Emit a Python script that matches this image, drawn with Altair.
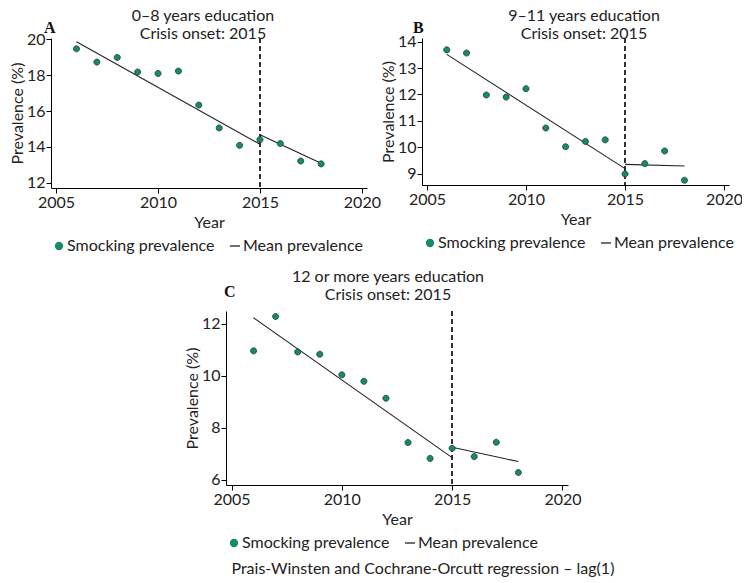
import altair as alt
import pandas as pd

years = [2006, 2007, 2008, 2009, 2010, 2011, 2012, 2013, 2014, 2015, 2016, 2017, 2018]
prev_a = [19.46, 18.72, 18.98, 18.17, 18.09, 18.22, 16.33, 15.06, 14.09, 14.41, 14.19, 13.22, 13.06]
prev_b = [13.69, 13.57, 11.98, 11.90, 12.22, 10.73, 10.02, 10.22, 10.28, 8.99, 9.38, 9.86, 8.75]
prev_c = [10.95, 12.27, 10.91, 10.82, 10.03, 9.78, 9.13, 7.43, 6.82, 7.21, 6.89, 7.44, 6.28]

fit_years = [2006, 2015, 2015, 2018]
fit_seg = ["pre", "pre", "post", "post"]
fit_a = [19.85, 14.15, 14.68, 13.09]
fit_b = [13.52, 9.19, 9.35, 9.29]
fit_c = [12.22, 6.85, 7.25, 6.70]

x_ticks = [2005, 2010, 2015, 2020]
yticks_a = [12, 14, 16, 18, 20]
yticks_b = [9, 10, 11, 12, 13, 14]
yticks_c = [6, 8, 10, 12]

titles_a = ["0–8 years education", "Crisis onset: 2015"]
titles_b = ["9–11 years education", "Crisis onset: 2015"]
titles_c = ["12 or more years education", "Crisis onset: 2015"]
note = "Prais-Winsten and Cochrane-Orcutt regression – lag(1)"

SERIES = ["Smocking prevalence", "Mean prevalence"]
onset = 2015
GREEN = "#178a6c"
DARK = "#222222"
FONT = "Lato"
FS = 16
CIRCLE = "M -0.7 0 A 0.7 0.7 0 1 0 0.7 0 A 0.7 0.7 0 1 0 -0.7 0 Z"
DASH = "M -1 0 L 1 0"
IND = dict(color="independent", shape="independent")


def txt(s, dx, dy, **kw):
    return alt.Chart(pd.DataFrame({"t": [s]})).mark_text(baseline="middle", **kw).encode(
        text="t:N", x=alt.value(dx), y=alt.value(dy))


def panel(prev, fit, titles, label, ydomain, yticks, w, h, tx, t1, t2, lx, ly):
    pts = pd.DataFrame({"year": years, "value": prev, "series": SERIES[0]})
    fl = pd.DataFrame({"year": fit_years, "value": fit, "seg": fit_seg, "series": SERIES[1]})
    x = alt.X("year:Q",
              scale=alt.Scale(domain=[2004.75, 2020.25], nice=False, zero=False),
              axis=alt.Axis(values=x_ticks, format="d", title="Year"))
    y = alt.Y("value:Q",
              scale=alt.Scale(domain=ydomain, nice=False, zero=False),
              axis=alt.Axis(values=yticks, format="d", title="Prevalence (%)"))
    leg = alt.Legend(orient="bottom", direction="horizontal", title=None)
    color = alt.Color("series:N", scale=alt.Scale(domain=SERIES, range=[GREEN, DARK]), legend=leg)
    shape = alt.Shape("series:N", scale=alt.Scale(domain=SERIES, range=[CIRCLE, DASH]), legend=leg)

    line = alt.Chart(fl).mark_line(strokeWidth=1.1).encode(x=x, y=y, color=color, detail="seg:N")
    dots = alt.Chart(pts).mark_point(filled=True, size=75, stroke="#1c3b32", strokeWidth=0.8,
                                     opacity=1).encode(x=x, y=y, color=color, shape=shape)
    rule = alt.Chart(pts).mark_rule(strokeDash=[5, 3], color="#333333", strokeWidth=1).encode(
        x=alt.datum(onset))
    ttl1 = txt(titles[0], tx, t1, align="center", fontSize=FS, color=DARK)
    ttl2 = txt(titles[1], tx, t2, align="center", fontSize=FS, color=DARK)
    lab = txt(label, lx, ly, align="left", font="Liberation Serif", fontWeight="bold",
              fontSize=FS, color="#111111")
    return alt.layer(rule, line, dots, ttl1, ttl2, lab).properties(width=w, height=h)


pa = panel(prev_a, fit_a, titles_a, "A", [11.72, 20.06], yticks_a, 316, 150, 152, -22, -4.5, -7, -10)
pb = panel(prev_b, fit_b, titles_b, "B", [8.57, 14.14], yticks_b, 307, 147, 162, -22, -4.5, -9, -10)
pc = panel(prev_c, fit_c, titles_c, "C", [5.8, 12.48], yticks_c, 342, 174, 162, -33.7, -15.7, -2, -18.7)

spacer = alt.Chart(pd.DataFrame({"a": [0]})).mark_point(opacity=0).properties(width=175, height=1)

top = alt.hconcat(pa, pb, spacing=55, bounds="flush").resolve_legend(**IND)
bottom = alt.hconcat(spacer, pc, spacing=0, bounds="flush").resolve_legend(**IND)
chart = alt.vconcat(top, bottom, spacing=273, bounds="flush").resolve_legend(**IND).properties(
    padding={"top": 0, "left": 1, "right": -1, "bottom": 0},
    title=alt.TitleParams(note, orient="bottom", anchor="start", dx=222, offset=10,
                          fontSize=FS, fontWeight="normal")
).configure(font=FONT).configure_view(stroke=None).configure_axis(
    domainColor="#000000", tickColor="#000000", labelColor=DARK, titleColor=DARK,
    labelFont=FONT, titleFont=FONT, labelFontSize=FS, titleFontSize=FS, titleFontWeight="normal",
    grid=False, tickSize=5, labelPadding=1
).configure_axisY(titlePadding=1).configure_axisX(titlePadding=4).configure_legend(
    labelFont=FONT, labelFontSize=FS, labelColor=DARK, symbolSize=100, symbolStrokeWidth=1.3,
    symbolStrokeColor=DARK, columnPadding=12, labelOffset=0, offset=8, padding=0
).configure_title(font=FONT, fontSize=FS, fontWeight="normal", color=DARK)

chart.save("out.html", embed_options={"renderer": "svg", "actions": False})
